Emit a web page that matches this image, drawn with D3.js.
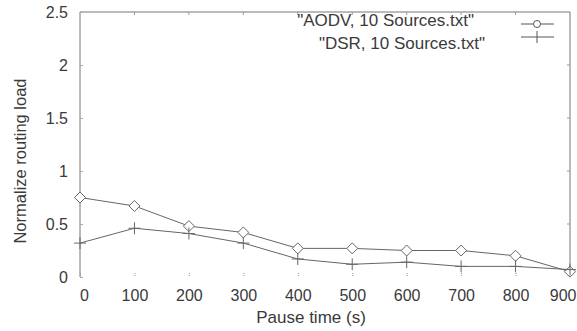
<!DOCTYPE html>
<html>
<head>
<meta charset="utf-8">
<title>Normalized routing load</title>
<script src="https://cdn.jsdelivr.net/npm/d3@7"></script>
<style>
  body { margin: 0; background: #fff; }
  text { font-family: "Liberation Sans", Arial, sans-serif; fill: #3a3a3a; }
</style>
</head>
<body>
<script>
    var pauseTimes = [0, 100, 200, 300, 400, 500, 600, 700, 800, 900];
    var aodvLoad = [0.75, 0.67, 0.48, 0.42, 0.27, 0.27, 0.25, 0.25, 0.20, 0.05];
    var dsrLoad = [0.32, 0.46, 0.41, 0.32, 0.17, 0.12, 0.14, 0.10, 0.10, 0.07];
    var yTicks = [0, 0.5, 1, 1.5, 2, 2.5];
    var seriesNames = ['"AODV, 10 Sources.txt"', '"DSR, 10 Sources.txt"'];

    var width = 577, height = 331,
        mLeft = 80, mRight = 570, mTop = 12, mBottom = 277;

    var svg = d3.select("body").append("svg")
        .attr("width", width)
        .attr("height", height);

    var x = d3.scaleLinear().domain([0, 900]).range([mLeft, mRight]);
    var y = d3.scaleLinear().domain([0, 2.5]).range([mBottom, mTop]);

    // frame: left, top, right
    svg.append("path")
        .attr("d", "M" + mLeft + "," + mBottom + "V" + mTop + "H" + mRight + "V" + mBottom)
        .attr("fill", "none").attr("stroke", "#777").attr("stroke-width", 1);

    // x axis (labels + small inward ticks)
    var xAxis = d3.axisBottom(x).tickValues(pauseTimes).tickSize(0).tickPadding(13);
    var gx = svg.append("g").attr("transform", "translate(0," + mBottom + ")").call(xAxis);
    gx.select(".domain").remove();
    gx.selectAll("text").attr("font-size", 16).style("font-family", "Liberation Sans, Arial, sans-serif").attr("fill", "#3a3a3a");
    gx.selectAll("text").filter(function(d) { return d === 900; })
        .attr("text-anchor", "end").attr("dx", 6);
    gx.selectAll("text").filter(function(d) { return d === 0; }).attr("dx", 4);
    gx.selectAll(".tick").append("line").attr("y1", -4).attr("y2", 0)
        .attr("stroke", "#999").attr("stroke-dasharray", "1,1");
    svg.append("g").selectAll("line").data(pauseTimes.slice(1, -1)).enter().append("line")
        .attr("x1", x).attr("x2", x).attr("y1", mTop).attr("y2", mTop + 3)
        .attr("stroke", "#999");

    // y axis
    var yAxis = d3.axisLeft(y).tickValues(yTicks).tickSize(0).tickPadding(12)
        .tickFormat(function(d) { return d; });
    var gy = svg.append("g").attr("transform", "translate(" + mLeft + ",0)").call(yAxis);
    gy.select(".domain").remove();
    gy.selectAll("text").attr("font-size", 16).style("font-family", "Liberation Sans, Arial, sans-serif").attr("fill", "#3a3a3a");
    gy.selectAll(".tick").append("line").attr("x1", 0).attr("x2", 3).attr("stroke", "#aaa");
    svg.append("g").selectAll("line").data(yTicks.slice(1, -1)).enter().append("line")
        .attr("x1", mRight - 3).attr("x2", mRight).attr("y1", y).attr("y2", y)
        .attr("stroke", "#999");

    // axis titles
    svg.append("text").attr("x", 311).attr("y", 323)
        .attr("text-anchor", "middle").attr("font-size", 17).text("Pause time (s)");
    svg.append("text")
        .attr("transform", "translate(26,161) rotate(-90)")
        .attr("text-anchor", "middle").attr("font-size", 16.5).text("Normalize routing load");

    var line = d3.line().x(function(d, i) { return x(pauseTimes[i]); }).y(function(d) { return y(d); });

    function diamond(g, cx, cy) {
        g.append("path")
            .attr("d", "M" + cx + "," + (cy - 5.5) + "L" + (cx + 5.5) + "," + cy + "L" + cx + "," + (cy + 5.5) + "L" + (cx - 5.5) + "," + cy + "Z")
            .attr("fill", "#fff").attr("stroke", "#666").attr("stroke-width", 1);
    }
    function plus(g, cx, cy) {
        g.append("path")
            .attr("d", "M" + (cx - 6) + "," + cy + "H" + (cx + 6) + "M" + cx + "," + (cy - 6) + "V" + (cy + 6))
            .attr("stroke", "#666").attr("stroke-width", 1);
    }

    // AODV
    svg.append("path").datum(aodvLoad).attr("d", line)
        .attr("fill", "none").attr("stroke", "#666").attr("stroke-width", 1);
    var ga = svg.append("g");
    aodvLoad.forEach(function(d, i) { diamond(ga, x(pauseTimes[i]), y(d)); });

    // DSR
    svg.append("path").datum(dsrLoad).attr("d", line)
        .attr("fill", "none").attr("stroke", "#666").attr("stroke-width", 1);
    var gd = svg.append("g");
    dsrLoad.forEach(function(d, i) { plus(gd, x(pauseTimes[i]), y(d)); });

    // legend
    var leg = svg.append("g");
    leg.append("text").attr("x", 474).attr("y", 26).attr("text-anchor", "end")
        .attr("font-size", 17).text(seriesNames[0]);
    leg.append("text").attr("x", 485).attr("y", 49).attr("text-anchor", "end")
        .attr("font-size", 17).text(seriesNames[1]);
    leg.append("line").attr("x1", 521).attr("x2", 554).attr("y1", 24).attr("y2", 24)
        .attr("stroke", "#555");
    leg.append("circle").attr("cx", 537).attr("cy", 24).attr("r", 3.5)
        .attr("fill", "#fff").attr("stroke", "#555");
    leg.append("path").attr("d", "M521,37H554M537,31V43").attr("stroke", "#555");
</script>
</body>
</html>
